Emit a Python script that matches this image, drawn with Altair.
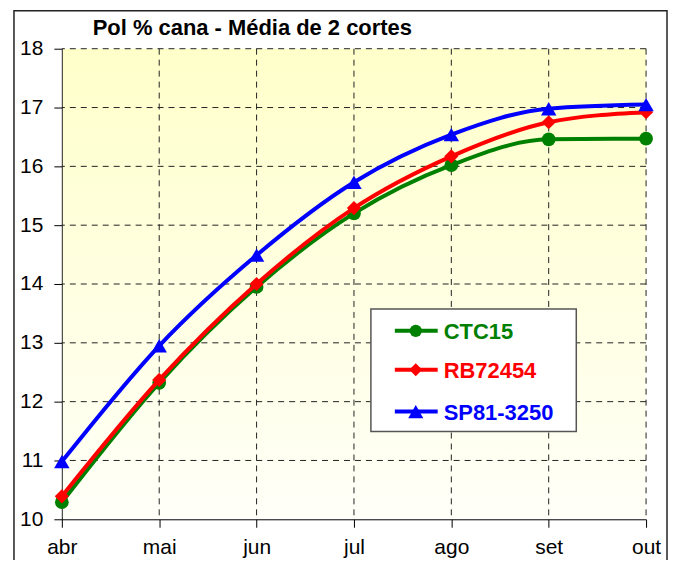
import altair as alt
import pandas as pd

# ---- data ----
months = ["abr", "mai", "jun", "jul", "ago", "set", "out"]
series_names = ["CTC15", "RB72454", "SP81-3250"]
ctc15 = [10.29, 12.32, 13.95, 15.20, 16.02, 16.46, 16.47]
rb72454 = [10.39, 12.37, 14.00, 15.29, 16.17, 16.75, 16.92]
sp81_3250 = [10.98, 12.95, 14.49, 15.73, 16.54, 16.98, 17.05]
y_ticks = [10, 11, 12, 13, 14, 15, 16, 17, 18]
title_text = "Pol % cana - Média de 2 cortes"

colors = ["#008000", "#FF0000", "#0000FF"]
shapes = ["circle", "diamond", "triangle-up"]
sizes = [190, 200, 240]
legend_sizes = [150, 170, 230]

FONT = "Liberation Sans, Arial, Helvetica, sans-serif"
W, H = 586, 472

values = [ctc15, rb72454, sp81_3250]
df = pd.DataFrame(
    [{"series": s, "month": m, "value": v}
     for s, vals in zip(series_names, values) for m, v in zip(months, vals)]
)
one = pd.DataFrame({"k": [0]})

x_scale = alt.Scale(type="point", domain=months, padding=0)
y_scale = alt.Scale(domain=[10, 18], nice=False, zero=False)

x_axis = alt.Axis(title=None, grid=False, labelAngle=0, tickSize=8,
                  labelPadding=9, labelFontSize=21)
y_axis = alt.Axis(title=None, grid=False, values=y_ticks, tickSize=8,
                  labelPadding=11, labelFontSize=21)

# background gradient of the plot area
bg = alt.Chart(one).mark_rect(
    fill=alt.Gradient(
        gradient="linear",
        stops=[alt.GradientStop(color="#FFFFCA", offset=0),
               alt.GradientStop(color="#FFFFF8", offset=1)],
        x1=0, x2=0, y1=0, y2=1,
    )
).encode(x=alt.value(1), x2=alt.value(W), y=alt.value(0), y2=alt.value(H - 1))

# dashed grid lines drawn from tick arrays
grid_y = alt.Chart(pd.DataFrame({"v": y_ticks[1:]})).mark_rule(
    color="#222222", strokeWidth=1, strokeDash=[6, 5]
).encode(y=alt.Y("v:Q", scale=y_scale, axis=y_axis))

grid_x = alt.Chart(pd.DataFrame({"m": months[1:]})).mark_rule(
    color="#222222", strokeWidth=1, strokeDash=[6, 5]
).encode(x=alt.X("m:N", scale=x_scale, sort=months, axis=x_axis))

layers = [bg, grid_y, grid_x]

for name, col, shp, sz in zip(series_names, colors, shapes, sizes):
    base = alt.Chart(df).transform_filter(alt.datum.series == name)
    enc = dict(
        x=alt.X("month:N", scale=x_scale, sort=months, axis=x_axis),
        y=alt.Y("value:Q", scale=y_scale, axis=y_axis),
    )
    layers.append(base.mark_line(color=col, strokeWidth=4,
                                 interpolate="monotone").encode(**enc))
    layers.append(base.mark_point(shape=shp, filled=True, size=sz, color=col,
                                  opacity=1).encode(**enc))

# legend box
layers.append(
    alt.Chart(one).mark_rect(fill="white", stroke="#555555", strokeWidth=1.5)
    .encode(x=alt.value(310), x2=alt.value(516), y=alt.value(261), y2=alt.value(384))
)
rows_y = [283, 322, 364]
for name, col, shp, sz, ry in zip(series_names, colors, shapes, legend_sizes, rows_y):
    layers.append(alt.Chart(one).mark_rule(color=col, strokeWidth=4).encode(
        x=alt.value(334), x2=alt.value(377), y=alt.value(ry)))
    layers.append(alt.Chart(one).mark_point(shape=shp, filled=True, size=sz,
                                            color=col, opacity=1).encode(
        x=alt.value(355), y=alt.value(ry)))
    layers.append(alt.Chart(one).mark_text(
        text=name, color=col, font=FONT, fontSize=22, fontWeight="bold",
        align="left", baseline="middle").encode(
        x=alt.value(383), y=alt.value(ry + 1)))

# title and outer frame
layers.append(alt.Chart(one).mark_text(
    text=title_text, font=FONT, fontSize=22, fontWeight="bold", color="black",
    align="left", baseline="alphabetic").encode(x=alt.value(31), y=alt.value(-14)))
layers.append(alt.Chart(one).mark_rect(fill=None, stroke="#222222", strokeWidth=1.5)
              .encode(x=alt.value(-48), x2=alt.value(607), y=alt.value(-38),
                      y2=alt.value(560)))

chart = alt.layer(*layers).properties(
    width=W, height=H,
    autosize=alt.AutoSizeParams(type="none"),
    padding={"left": 54, "top": 40, "right": 23, "bottom": 40},
    background="white",
).configure_view(stroke=None).configure_axis(
    domainColor="black", tickColor="black", labelColor="black",
    labelFont=FONT, domainWidth=1, tickWidth=1,
)

chart.save("out.html", embed_options={"renderer": "svg", "actions": False})
